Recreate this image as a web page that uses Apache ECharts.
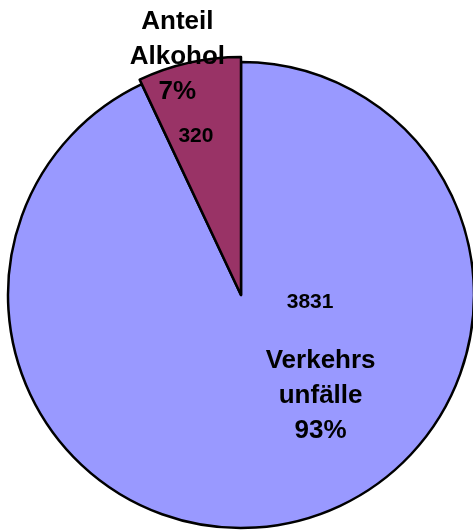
<!DOCTYPE html>
<html>
<head>
<meta charset="utf-8">
<script src="https://cdn.jsdelivr.net/npm/echarts@6/dist/echarts.min.js"></script>
<style>
  html, body { margin: 0; padding: 0; background: #ffffff; }
  #chart { width: 473px; height: 530px; }
</style>
</head>
<body>
<div id="chart"></div>
<script>
// Slice names, shares (in percent) and absolute counts
const names = ['Anteil\nAlkohol', 'Verkehrs\nunfälle'];
const shares = [7, 93];
const counts = [320, 3831];
const colors = ['#993366', '#9999ff'];

const chart = echarts.init(document.getElementById('chart'), null, { renderer: 'canvas' });

const font = 'Arial, "Liberation Sans", sans-serif';
const center = [241, 295];

// Base pie: both slices, count labels
const baseData = names.map((n, i) => ({
  name: n,
  value: shares[i],
  itemStyle: { color: colors[i] },
  label: {
    offset: i === 0 ? [-19, -42] : [43, -109]
  }
}));

// Overlay pie: the alcohol slice drawn slightly larger, plus the name/percent labels
const overlayData = names.map((n, i) => ({
  name: n,
  value: shares[i],
  itemStyle: i === 0
    ? { color: colors[i], borderColor: '#000', borderWidth: 2.5 }
    : { color: 'rgba(0,0,0,0)', borderWidth: 0 },
  label: {
    offset: i === 0 ? [-37, -119] : [53, -18]
  }
}));

chart.setOption({
  backgroundColor: '#ffffff',
  animation: false,
  series: [
    {
      type: 'pie',
      center: center,
      radius: [0, 233],
      startAngle: 90,
      clockwise: false,
      silent: true,
      emphasis: { disabled: true },
      itemStyle: { borderColor: '#000', borderWidth: 2.5 },
      label: {
        show: true,
        position: 'inside',
        formatter: p => String(counts[p.dataIndex]),
        fontFamily: font,
        fontWeight: 'bold',
        fontSize: 21,
        color: '#000'
      },
      labelLine: { show: false },
      data: baseData
    },
    {
      type: 'pie',
      center: center,
      radius: [0, 238],
      startAngle: 90,
      clockwise: false,
      silent: true,
      emphasis: { disabled: true },
      label: {
        show: true,
        position: 'inside',
        formatter: p => names[p.dataIndex] + '\n' + shares[p.dataIndex] + '%',
        fontFamily: font,
        fontWeight: 'bold',
        fontSize: 26,
        lineHeight: 35,
        align: 'center',
        color: '#000'
      },
      labelLine: { show: false },
      data: overlayData
    }
  ]
});
</script>
</body>
</html>
